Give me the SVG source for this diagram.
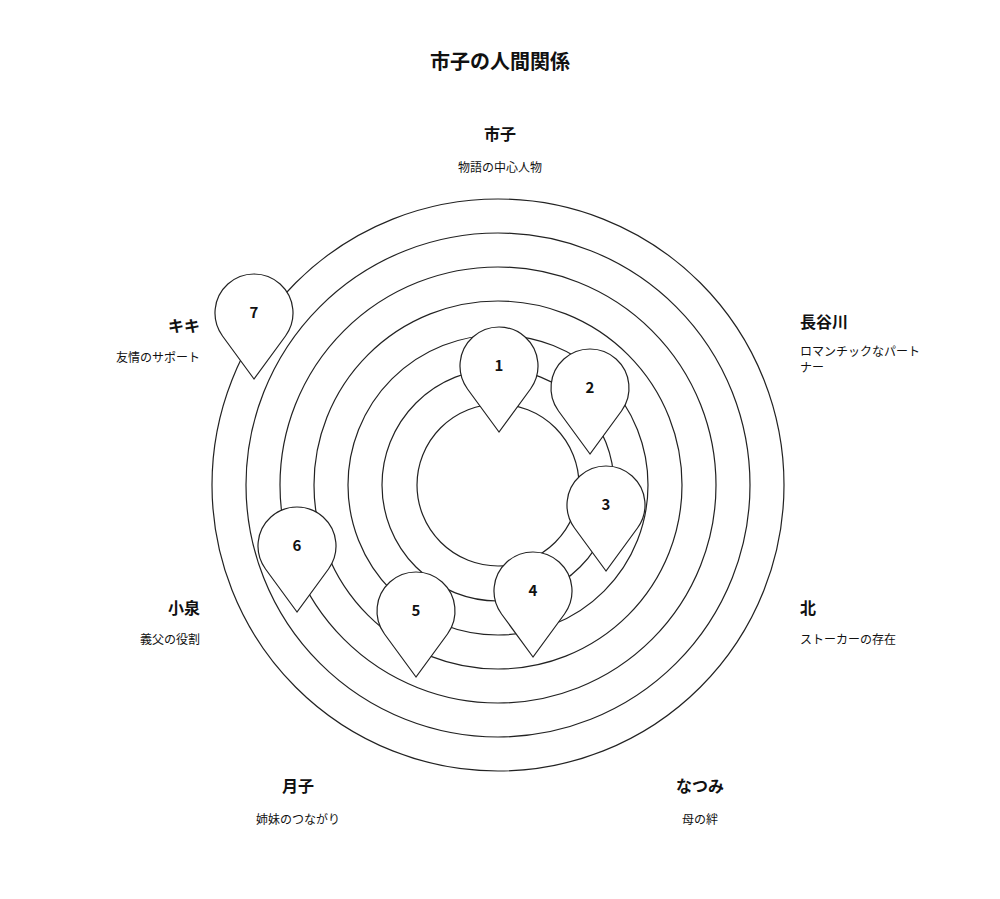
<svg xmlns="http://www.w3.org/2000/svg" width="1000" height="899" viewBox="0 0 1000 899">
<style>
text{font-family:"Noto Sans CJK JP","Noto Sans",sans-serif;fill:#111}
.t{font-size:20px;font-weight:bold}
.n{font-size:16px;font-weight:bold}
.d{font-size:12px}
.ring{fill:none;stroke:#222;stroke-width:1.2}
.pin{fill:#fff;stroke:#222;stroke-width:1.2}
.num{font-size:15px;font-weight:bold;text-anchor:middle}
</style>
<defs><path id="pin" class="pin" d="M0,66 L-31.5,23 A39,39 0 1 1 31.5,23 Z"/></defs>
<rect width="1000" height="899" fill="#fff"/>
<text class="t" x="500" y="69" text-anchor="middle">市子の人間関係</text>
<g id="rings">
<circle class="ring" cx="498" cy="485" r="81"/>
<circle class="ring" cx="498" cy="485" r="116"/>
<circle class="ring" cx="498" cy="485" r="150"/>
<circle class="ring" cx="498" cy="485" r="184"/>
<circle class="ring" cx="498" cy="485" r="218"/>
<circle class="ring" cx="498" cy="485" r="252"/>
<circle class="ring" cx="498" cy="485" r="286"/>
</g>
<g id="pin1"><use href="#pin" x="499" y="366"/><text class="num" x="499" y="371">1</text></g>
<g id="pin2"><use href="#pin" x="590" y="388"/><text class="num" x="590" y="393">2</text></g>
<g id="pin3"><use href="#pin" x="606" y="505"/><text class="num" x="606" y="510">3</text></g>
<g id="pin4"><use href="#pin" x="533" y="591"/><text class="num" x="533" y="596">4</text></g>
<g id="pin5"><use href="#pin" x="416" y="611"/><text class="num" x="416" y="616">5</text></g>
<g id="pin6"><use href="#pin" x="297" y="546"/><text class="num" x="297" y="551">6</text></g>
<g id="pin7"><use href="#pin" x="254" y="313"/><text class="num" x="254" y="318">7</text></g>
<g id="label-ichiko"><text class="n" x="500" y="140" text-anchor="middle">市子</text><text class="d" x="500" y="172" text-anchor="middle">物語の中心人物</text></g>
<g id="label-hasegawa"><text class="n" x="800" y="328">長谷川</text><text class="d" x="800" y="356">ロマンチックなパート</text><text class="d" x="800" y="372">ナー</text></g>
<g id="label-kita"><text class="n" x="800" y="614">北</text><text class="d" x="800" y="644">ストーカーの存在</text></g>
<g id="label-natsumi"><text class="n" x="700" y="792" text-anchor="middle">なつみ</text><text class="d" x="700" y="824" text-anchor="middle">母の絆</text></g>
<g id="label-tsukiko"><text class="n" x="298" y="792" text-anchor="middle">月子</text><text class="d" x="298" y="824" text-anchor="middle">姉妹のつながり</text></g>
<g id="label-koizumi"><text class="n" x="200" y="614" text-anchor="end">小泉</text><text class="d" x="200" y="644" text-anchor="end">義父の役割</text></g>
<g id="label-kiki"><text class="n" x="200" y="332" text-anchor="end">キキ</text><text class="d" x="200" y="362" text-anchor="end">友情のサポート</text></g>
</svg>
